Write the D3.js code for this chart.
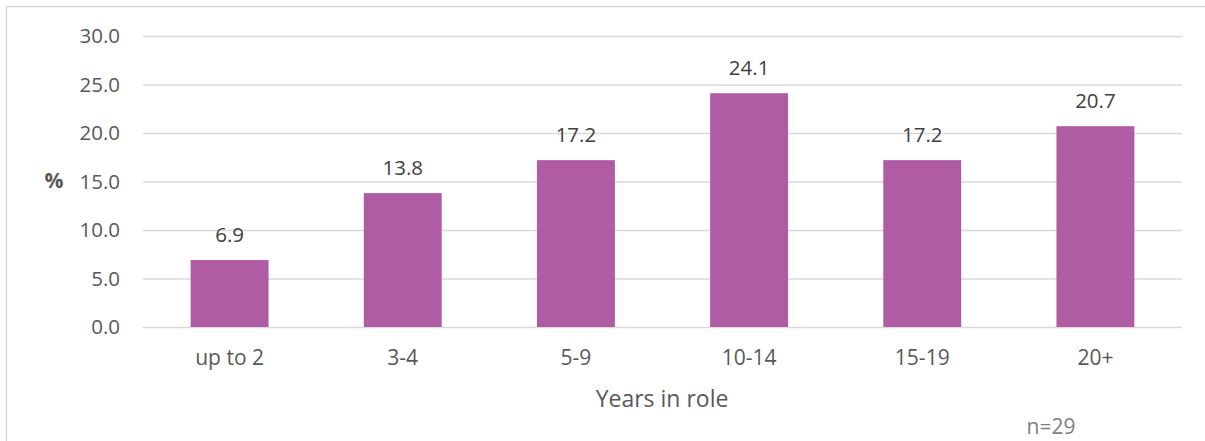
<!DOCTYPE html>
<html><head><meta charset="utf-8">
<script src="https://cdn.jsdelivr.net/npm/d3@7"></script>
<style>body{margin:0;background:#fff}svg{display:block}text{font-family:"Open Sans","Noto Sans",sans-serif}</style>
</head><body>
<svg id="c" width="1205" height="441"></svg>
<script>
const categories = ["up to 2","3-4","5-9","10-14","15-19","20+"];
const values = [6.9,13.8,17.2,24.1,17.2,20.7];
const yTicks = [0,5,10,15,20,25,30];
const yAxisTitle = "%";
const xAxisTitle = "Years in role";
const note = "n=29";

const FONT = "'Open Sans','Noto Sans',sans-serif";
const svg = d3.select("#c");
svg.append("rect").attr("x",6.5).attr("y",6.5).attr("width",1220).attr("height",450)
  .attr("fill","none").attr("stroke","#d9d9d9").attr("stroke-width",1.5);

const x = d3.scaleBand().domain(categories).range([143,1182]).paddingInner(0.55).paddingOuter(0.275);
const y = d3.scaleLinear().domain([0,30]).range([327,36]);

const gy = svg.append("g").attr("transform","translate(143,0)")
  .call(d3.axisLeft(y).tickValues(yTicks).tickFormat(d3.format(".1f")).tickSize(-1039).tickPadding(23));
gy.select(".domain").remove();
gy.selectAll("line").attr("stroke","#d9d9d9").attr("stroke-width",1.5);
gy.selectAll("text").attr("fill","#595959").style("font-size","20.5px").style("font-family",FONT);

svg.selectAll("rect.bar").data(values).join("rect").attr("class","bar")
  .attr("x",(d,i)=>x(categories[i])).attr("width",x.bandwidth())
  .attr("y",d=>y(d)).attr("height",d=>y(0)-y(d)).attr("fill","#B05CA5");

svg.selectAll("text.val").data(values).join("text").attr("class","val")
  .attr("x",(d,i)=>x(categories[i])+x.bandwidth()/2).attr("y",d=>y(d)-18)
  .attr("text-anchor","middle").attr("fill","#404040").style("font-size","20.5px")
  .text(d=>d3.format(".1f")(d));

const gx = svg.append("g").attr("transform","translate(0,327)")
  .call(d3.axisBottom(x).tickSize(0).tickPadding(23));
gx.select(".domain").remove();
gx.selectAll("text").attr("fill","#595959").style("font-size","21px").style("font-family",FONT);

svg.append("text").attr("x",662).attr("y",407).attr("text-anchor","middle")
  .attr("fill","#595959").style("font-size","23px").text(xAxisTitle);
svg.append("text").attr("x",54).attr("y",188).attr("text-anchor","middle")
  .attr("fill","#595959").style("font-size","21px").style("font-weight","bold").text(yAxisTitle);
svg.append("text").attr("x",1051).attr("y",434).attr("text-anchor","middle")
  .attr("fill","#808080").style("font-size","21px").text(note);
</script>
</body></html>
